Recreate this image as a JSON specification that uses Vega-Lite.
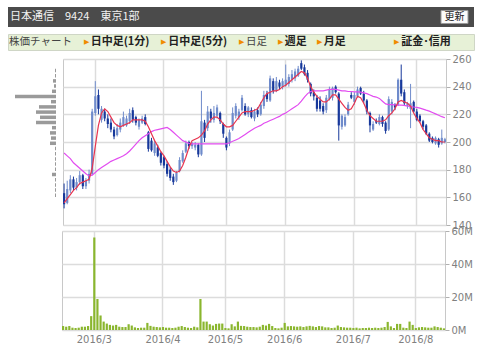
{
  "$schema": "https://vega.github.io/schema/vega-lite/v6.json",
  "background": "#ffffff",
  "padding": {"left": 7, "top": 7, "right": 4, "bottom": 4},
  "autosize": {"type": "pad"},
  "config": {
    "view": {"stroke": "#c8c8c8"},
    "axis": {"labelFont": "DejaVu Sans", "labelFontSize": 10, "labelColor": "#808080", "tickColor": "#b0b0b0", "gridColor": "#dcdcdc", "gridWidth": 1.5, "labelOverlap": false}
  },
  "datasets": {
    "daily": [
      {"d":"2016-02-16","o":163,"h":170,"l":152,"c":155,"v":2.4,"ms":156,"ml":192},
      {"d":"2016-02-17","o":156,"h":172,"l":155,"c":166,"v":2.0,"ms":159,"ml":190},
      {"d":"2016-02-18","o":165,"h":176,"l":163,"c":173,"v":2.4,"ms":162,"ml":188},
      {"d":"2016-02-19","o":173,"h":175,"l":165,"c":167,"v":1.4,"ms":165,"ml":185},
      {"d":"2016-02-22","o":167,"h":174,"l":165,"c":171,"v":1.2,"ms":167,"ml":183},
      {"d":"2016-02-23","o":171,"h":179,"l":169,"c":176,"v":1.4,"ms":170,"ml":181},
      {"d":"2016-02-24","o":176,"h":177,"l":166,"c":168,"v":2.0,"ms":171,"ml":179},
      {"d":"2016-02-25","o":168,"h":174,"l":166,"c":172,"v":2.0,"ms":172,"ml":177},
      {"d":"2016-02-26","o":172,"h":180,"l":170,"c":177,"v":2.4,"ms":173,"ml":175.5},
      {"d":"2016-02-29","o":177,"h":224,"l":176,"c":222,"v":8.4,"ms":181,"ml":176},
      {"d":"2016-03-01","o":221,"h":244,"l":219,"c":233,"v":56,"ms":197,"ml":178},
      {"d":"2016-03-02","o":234,"h":238,"l":220,"c":224,"v":18.8,"ms":212,"ml":180},
      {"d":"2016-03-03","o":216,"h":226,"l":214,"c":224,"v":8.8,"ms":221,"ml":181.5},
      {"d":"2016-03-04","o":222,"h":224,"l":215,"c":217,"v":5.1,"ms":224,"ml":183},
      {"d":"2016-03-07","o":217,"h":220,"l":210,"c":213,"v":3.9,"ms":222,"ml":184.5},
      {"d":"2016-03-08","o":214,"h":217,"l":207,"c":209,"v":3.1,"ms":218,"ml":186},
      {"d":"2016-03-09","o":209,"h":211,"l":202,"c":204,"v":2.7,"ms":214,"ml":187},
      {"d":"2016-03-10","o":205,"h":213,"l":204,"c":210,"v":3.1,"ms":212,"ml":188},
      {"d":"2016-03-11","o":209,"h":217,"l":207,"c":214,"v":2.0,"ms":211,"ml":189},
      {"d":"2016-03-14","o":212,"h":222,"l":211,"c":218,"v":1.8,"ms":212,"ml":190},
      {"d":"2016-03-15","o":212,"h":219,"l":211,"c":217,"v":1.8,"ms":213,"ml":191.5},
      {"d":"2016-03-16","o":215,"h":224,"l":213,"c":221,"v":3.5,"ms":214,"ml":193.5},
      {"d":"2016-03-17","o":223,"h":225,"l":214,"c":216,"v":2.7,"ms":216,"ml":196},
      {"d":"2016-03-18","o":218,"h":219,"l":212,"c":214,"v":1.6,"ms":216,"ml":198.5},
      {"d":"2016-03-22","o":211,"h":217,"l":209,"c":216,"v":1.2,"ms":216,"ml":201},
      {"d":"2016-03-23","o":214,"h":219,"l":213,"c":217,"v":1.4,"ms":216,"ml":203},
      {"d":"2016-03-24","o":218,"h":220,"l":212,"c":213,"v":1.4,"ms":215,"ml":204.5},
      {"d":"2016-03-25","o":207,"h":208,"l":193,"c":195,"v":4.3,"ms":211,"ml":206},
      {"d":"2016-03-28","o":201,"h":203,"l":193,"c":194,"v":2.5,"ms":206,"ml":207.5},
      {"d":"2016-03-29","o":192,"h":201,"l":190,"c":199,"v":2.0,"ms":201,"ml":208.5},
      {"d":"2016-03-30","o":196,"h":198,"l":189,"c":190,"v":1.8,"ms":197,"ml":209},
      {"d":"2016-03-31","o":192,"h":193,"l":183,"c":185,"v":1.6,"ms":193,"ml":209.5},
      {"d":"2016-04-01","o":189,"h":190,"l":181,"c":183,"v":1.8,"ms":190,"ml":210},
      {"d":"2016-04-04","o":184,"h":186,"l":175,"c":177,"v":1.4,"ms":186,"ml":210.5},
      {"d":"2016-04-05","o":180,"h":182,"l":172,"c":174,"v":1.4,"ms":182,"ml":209},
      {"d":"2016-04-06","o":175,"h":177,"l":169,"c":171,"v":1.2,"ms":179,"ml":207},
      {"d":"2016-04-07","o":172,"h":179,"l":171,"c":178,"v":1.4,"ms":178,"ml":205},
      {"d":"2016-04-08","o":179,"h":189,"l":178,"c":187,"v":2.0,"ms":179,"ml":203},
      {"d":"2016-04-11","o":186,"h":194,"l":185,"c":192,"v":2.4,"ms":183,"ml":201},
      {"d":"2016-04-12","o":193,"h":201,"l":192,"c":199,"v":1.8,"ms":189,"ml":200},
      {"d":"2016-04-13","o":200,"h":201,"l":195,"c":197,"v":1.4,"ms":196,"ml":199},
      {"d":"2016-04-14","o":197,"h":200,"l":195,"c":199,"v":1.2,"ms":201,"ml":198.7},
      {"d":"2016-04-15","o":196,"h":200,"l":194,"c":198,"v":2.0,"ms":202,"ml":198.7},
      {"d":"2016-04-18","o":198,"h":199,"l":189,"c":191,"v":1.6,"ms":203,"ml":198.7},
      {"d":"2016-04-19","o":191,"h":237,"l":190,"c":215,"v":18.8,"ms":205,"ml":198.7},
      {"d":"2016-04-20","o":214,"h":216,"l":200,"c":203,"v":5.1,"ms":208,"ml":198.7},
      {"d":"2016-04-21","o":210,"h":226,"l":208,"c":222,"v":5.1,"ms":213,"ml":198.7},
      {"d":"2016-04-22","o":222,"h":224,"l":214,"c":217,"v":3.5,"ms":216,"ml":198.7},
      {"d":"2016-04-25","o":216,"h":226,"l":214,"c":221,"v":2.7,"ms":218,"ml":198.7},
      {"d":"2016-04-26","o":219,"h":227,"l":217,"c":225,"v":3.7,"ms":218,"ml":198.7},
      {"d":"2016-04-27","o":221,"h":222,"l":213,"c":215,"v":3.9,"ms":216,"ml":198.7},
      {"d":"2016-04-28","o":213,"h":214,"l":203,"c":206,"v":3.9,"ms":213,"ml":198.7},
      {"d":"2016-05-02","o":203,"h":204,"l":194,"c":196,"v":1.2,"ms":211,"ml":198.7},
      {"d":"2016-05-06","o":199,"h":209,"l":197,"c":207,"v":1.0,"ms":211,"ml":199.5},
      {"d":"2016-05-09","o":209,"h":225,"l":208,"c":221,"v":3.5,"ms":212,"ml":200.5},
      {"d":"2016-05-10","o":219,"h":228,"l":217,"c":226,"v":2.2,"ms":215,"ml":201.5},
      {"d":"2016-05-11","o":218,"h":224,"l":216,"c":222,"v":5.1,"ms":218,"ml":202.5},
      {"d":"2016-05-12","o":223,"h":234,"l":222,"c":232,"v":2.5,"ms":221,"ml":204},
      {"d":"2016-05-13","o":226,"h":228,"l":219,"c":220,"v":2.4,"ms":222,"ml":205.5},
      {"d":"2016-05-16","o":220,"h":226,"l":218,"c":225,"v":2.0,"ms":222,"ml":207},
      {"d":"2016-05-17","o":223,"h":225,"l":217,"c":218,"v":1.8,"ms":222,"ml":208.5},
      {"d":"2016-05-18","o":217,"h":224,"l":215,"c":222,"v":1.8,"ms":223,"ml":210},
      {"d":"2016-05-19","o":223,"h":225,"l":218,"c":220,"v":1.6,"ms":224,"ml":211},
      {"d":"2016-05-20","o":220,"h":229,"l":219,"c":227,"v":2.0,"ms":228,"ml":212},
      {"d":"2016-05-23","o":226,"h":237,"l":224,"c":234,"v":3.1,"ms":232,"ml":213.5},
      {"d":"2016-05-24","o":235,"h":237,"l":229,"c":231,"v":2.7,"ms":235,"ml":214.5},
      {"d":"2016-05-25","o":230,"h":248,"l":229,"c":246,"v":3.7,"ms":236,"ml":215.5},
      {"d":"2016-05-26","o":244,"h":246,"l":235,"c":237,"v":2.4,"ms":237,"ml":216.5},
      {"d":"2016-05-27","o":237,"h":247,"l":236,"c":244,"v":1.2,"ms":237,"ml":217.5},
      {"d":"2016-05-30","o":243,"h":245,"l":238,"c":240,"v":1.0,"ms":238,"ml":218.5},
      {"d":"2016-05-31","o":240,"h":246,"l":238,"c":244,"v":1.4,"ms":240,"ml":220},
      {"d":"2016-06-01","o":241,"h":256,"l":240,"c":245,"v":4.3,"ms":241,"ml":221},
      {"d":"2016-06-02","o":242,"h":249,"l":240,"c":247,"v":2.2,"ms":243,"ml":222.5},
      {"d":"2016-06-03","o":245,"h":252,"l":243,"c":249,"v":2.4,"ms":245,"ml":224},
      {"d":"2016-06-06","o":246,"h":253,"l":244,"c":251,"v":2.2,"ms":247,"ml":225.5},
      {"d":"2016-06-07","o":248,"h":255,"l":247,"c":253,"v":2.0,"ms":249,"ml":227},
      {"d":"2016-06-08","o":257,"h":259,"l":252,"c":253,"v":2.2,"ms":251,"ml":229.5},
      {"d":"2016-06-09","o":254,"h":256,"l":248,"c":249,"v":1.8,"ms":250,"ml":232.5},
      {"d":"2016-06-10","o":250,"h":252,"l":243,"c":245,"v":2.2,"ms":246,"ml":235},
      {"d":"2016-06-13","o":242,"h":243,"l":233,"c":235,"v":2.5,"ms":240,"ml":236.5},
      {"d":"2016-06-14","o":236,"h":238,"l":230,"c":233,"v":2.2,"ms":236,"ml":237},
      {"d":"2016-06-15","o":232,"h":234,"l":222,"c":224,"v":1.8,"ms":233,"ml":237},
      {"d":"2016-06-16","o":230,"h":233,"l":222,"c":224,"v":2.4,"ms":231,"ml":237},
      {"d":"2016-06-17","o":226,"h":228,"l":220,"c":222,"v":2.2,"ms":229,"ml":237},
      {"d":"2016-06-20","o":223,"h":234,"l":221,"c":232,"v":1.6,"ms":229,"ml":237.5},
      {"d":"2016-06-21","o":231,"h":240,"l":230,"c":238,"v":1.6,"ms":231,"ml":238},
      {"d":"2016-06-22","o":232,"h":240,"l":230,"c":239,"v":1.2,"ms":234,"ml":238},
      {"d":"2016-06-23","o":240,"h":241,"l":235,"c":236,"v":1.4,"ms":234,"ml":238},
      {"d":"2016-06-24","o":235,"h":236,"l":201,"c":212,"v":2.7,"ms":231,"ml":237.5},
      {"d":"2016-06-27","o":211,"h":220,"l":209,"c":219,"v":1.8,"ms":228,"ml":237},
      {"d":"2016-06-28","o":212,"h":220,"l":211,"c":218,"v":1.6,"ms":225,"ml":237},
      {"d":"2016-06-29","o":220,"h":229,"l":219,"c":227,"v":1.4,"ms":223,"ml":236.5},
      {"d":"2016-06-30","o":234,"h":236,"l":231,"c":232,"v":1.4,"ms":224,"ml":236.5},
      {"d":"2016-07-01","o":229,"h":236,"l":227,"c":234,"v":1.2,"ms":228,"ml":236.3},
      {"d":"2016-07-04","o":233,"h":240,"l":232,"c":238,"v":1.4,"ms":233,"ml":236.2},
      {"d":"2016-07-05","o":239,"h":240,"l":234,"c":235,"v":1.0,"ms":232,"ml":236},
      {"d":"2016-07-06","o":235,"h":237,"l":228,"c":230,"v":1.2,"ms":228,"ml":235.5},
      {"d":"2016-07-07","o":230,"h":231,"l":220,"c":222,"v":1.2,"ms":223,"ml":235},
      {"d":"2016-07-08","o":221,"h":222,"l":207,"c":212,"v":1.4,"ms":219,"ml":234},
      {"d":"2016-07-11","o":209,"h":215,"l":208,"c":213,"v":1.2,"ms":217,"ml":233},
      {"d":"2016-07-12","o":215,"h":217,"l":213,"c":214,"v":1.4,"ms":215,"ml":232.5},
      {"d":"2016-07-13","o":213,"h":220,"l":212,"c":218,"v":1.2,"ms":215,"ml":231.5},
      {"d":"2016-07-14","o":218,"h":219,"l":211,"c":213,"v":1.4,"ms":215,"ml":229.5},
      {"d":"2016-07-15","o":214,"h":215,"l":206,"c":208,"v":1.8,"ms":216,"ml":227.5},
      {"d":"2016-07-19","o":209,"h":233,"l":208,"c":231,"v":4.9,"ms":219,"ml":227},
      {"d":"2016-07-20","o":222,"h":231,"l":220,"c":229,"v":2.2,"ms":221,"ml":227},
      {"d":"2016-07-21","o":227,"h":228,"l":223,"c":225,"v":1.2,"ms":224,"ml":226.8},
      {"d":"2016-07-22","o":227,"h":246,"l":226,"c":245,"v":3.7,"ms":229,"ml":226.7},
      {"d":"2016-07-25","o":245,"h":256,"l":233,"c":235,"v":3.7,"ms":230,"ml":226.6},
      {"d":"2016-07-26","o":236,"h":238,"l":226,"c":228,"v":1.4,"ms":229,"ml":226.5},
      {"d":"2016-07-27","o":226,"h":229,"l":224,"c":228,"v":1.2,"ms":228,"ml":226},
      {"d":"2016-07-28","o":224,"h":242,"l":210,"c":228,"v":5.1,"ms":226,"ml":225.8},
      {"d":"2016-07-29","o":229,"h":230,"l":221,"c":222,"v":3.1,"ms":221,"ml":225.3},
      {"d":"2016-08-01","o":222,"h":224,"l":215,"c":216,"v":1.2,"ms":217,"ml":225},
      {"d":"2016-08-02","o":219,"h":220,"l":214,"c":215,"v":1.6,"ms":214,"ml":224.5},
      {"d":"2016-08-03","o":215,"h":216,"l":209,"c":211,"v":1.8,"ms":209,"ml":223.8},
      {"d":"2016-08-04","o":212,"h":213,"l":205,"c":206,"v":1.6,"ms":206,"ml":223},
      {"d":"2016-08-05","o":206,"h":207,"l":200,"c":201,"v":1.4,"ms":203,"ml":222.3},
      {"d":"2016-08-08","o":203,"h":204,"l":199,"c":200,"v":1.4,"ms":202,"ml":221.3},
      {"d":"2016-08-09","o":199,"h":204,"l":198,"c":203,"v":2.2,"ms":201,"ml":220.3},
      {"d":"2016-08-10","o":202,"h":203,"l":196,"c":198,"v":1.8,"ms":201,"ml":219.3},
      {"d":"2016-08-12","o":199,"h":209,"l":198,"c":203,"v":1.4,"ms":200,"ml":218.3},
      {"d":"2016-08-15","o":200,"h":203,"l":199,"c":202,"v":1.0,"ms":200,"ml":217.5}
    ],
    "profile": [
      {"p":255,"w":1},{"p":251,"w":1},{"p":247,"w":3},{"p":243,"w":2},{"p":239,"w":4},
      {"p":235,"w":41},{"p":231,"w":5},{"p":227,"w":17},{"p":223,"w":20},{"p":219,"w":16},
      {"p":215,"w":20},{"p":211,"w":4},{"p":207,"w":6},{"p":203,"w":5},{"p":199,"w":6},
      {"p":195,"w":1},{"p":191,"w":1},{"p":187,"w":1},{"p":183,"w":1},{"p":179,"w":1},
      {"p":175,"w":4},{"p":171,"w":1},{"p":167,"w":1},{"p":163,"w":1},{"p":159,"w":1}
    ]
  },
  "vconcat": [
    {
      "vconcat": [
        {
          "width": 466, "height": 20,
          "view": {"fill": "#4b4b4b", "stroke": null},
          "encoding": {"x": {"field": "slot", "type": "nominal", "scale": {"type": "point", "domain": ["L", "R"], "padding": 0}, "axis": null}},
          "layer": [
            {"data": {"values": [{"slot": "L", "label": "日本通信　9424　東京1部"}]},
             "mark": {"type": "text", "align": "left", "dx": 2, "color": "#f2f2f2", "fontSize": 11, "font": "Noto Sans CJK JP"},
             "encoding": {"text": {"field": "label"}}},
            {"data": {"values": [{"slot": "R"}]},
             "mark": {"type": "point", "shape": "M-1,-0.48L1,-0.48L1,0.48L-1,0.48Z", "size": 729, "filled": true, "fill": "#fbfbfb", "stroke": "#999999", "strokeWidth": 1, "opacity": 1, "xOffset": -19.5}},
            {"data": {"values": [{"slot": "R", "label": "更新"}]},
             "mark": {"type": "text", "align": "center", "dx": -19.5, "color": "#222222", "fontSize": 10, "font": "Noto Sans CJK JP"},
             "encoding": {"text": {"field": "label"}}}
          ]
        },
        {
          "width": 466, "height": 16,
          "view": {"fill": "#e7f1d7", "stroke": "#cfd6c6"},
          "data": {"values": [
            {"slot": "s0", "label": "株価チャート", "link": false, "arrow": false},
            {"slot": "s2", "label": "日中足(1分)", "link": true, "arrow": true},
            {"slot": "s4", "label": "日中足(5分)", "link": true, "arrow": true},
            {"slot": "s6", "label": "日足", "link": false, "arrow": true},
            {"slot": "s7", "label": "週足", "link": true, "arrow": true},
            {"slot": "s8", "label": "月足", "link": true, "arrow": true},
            {"slot": "s10", "label": "証金･信用", "link": true, "arrow": true}
          ]},
          "encoding": {"x": {"field": "slot", "type": "nominal", "scale": {"type": "point", "domain": ["s0","s1","s2","s3","s4","s5","s6","s7","s8","s9","s10","s11","s12"], "padding": 0}, "axis": null}},
          "layer": [
            {"transform": [{"filter": "datum.arrow"}],
             "mark": {"type": "text", "align": "left", "dx": -2, "color": "#f08c00", "fontSize": 7, "text": "▶"}},
            {"transform": [{"filter": "!datum.arrow"}],
             "mark": {"type": "text", "align": "left", "dx": 1, "color": "#444444", "fontSize": 10.5, "font": "Noto Sans CJK JP"},
             "encoding": {"text": {"field": "label"}}},
            {"transform": [{"filter": "datum.arrow && !datum.link"}],
             "mark": {"type": "text", "align": "left", "dx": 5, "color": "#444444", "fontSize": 10.5, "font": "Noto Sans CJK JP"},
             "encoding": {"text": {"field": "label"}}},
            {"transform": [{"filter": "datum.link"}],
             "mark": {"type": "text", "align": "left", "dx": 5, "color": "#222222", "fontSize": 11, "fontWeight": "bold", "font": "Noto Sans CJK JP"},
             "encoding": {"text": {"field": "label"}}}
          ]
        }
      ],
      "spacing": 6,
      "bounds": "full"
    },
    {
      "vconcat": [
        {
          "hconcat": [
            {
              "width": 48, "height": 166,
              "view": {"stroke": null},
              "data": {"name": "profile"},
              "mark": {"type": "bar", "orient": "horizontal", "size": 3.5, "color": "#9a9a9a"},
              "encoding": {
                "y": {"field": "p", "type": "quantitative", "scale": {"domain": [140, 260], "zero": false}, "axis": null},
                "x": {"field": "w", "type": "quantitative", "scale": {"domain": [0, 48], "reverse": true}, "axis": null}
              }
            },
            {
              "width": 383, "height": 166,
              "view": {"stroke": "#c8c8c8"},
              "data": {"name": "daily"},
              "encoding": {
                "x": {"field": "d", "type": "ordinal", "scale": {"paddingInner": 0.3, "paddingOuter": 0},
                      "axis": {"values": ["2016-03-01","2016-04-01","2016-05-02","2016-06-01","2016-07-01","2016-08-01"], "labels": false, "ticks": false, "domain": false, "grid": true, "bandPosition": 0.5, "title": null}}
              },
              "layer": [
                {"mark": {"type": "rule", "strokeWidth": 1},
                 "encoding": {
                   "y": {"field": "l", "type": "quantitative", "scale": {"domain": [140, 260], "zero": false},
                         "axis": {"orient": "right", "values": [140,160,180,200,220,240,260], "tickCount": 7, "title": null, "domain": false, "tickSize": 4, "grid": true, "labelOverlap": false}},
                   "y2": {"field": "h"},
                   "color": {"condition": {"test": "datum.c >= datum.o", "value": "#6f8bcb"}, "value": "#17389b"}
                 }},
                {"mark": {"type": "bar"},
                 "encoding": {
                   "y": {"field": "o", "type": "quantitative", "scale": {"domain": [140, 260], "zero": false},
                         "axis": {"orient": "right", "values": [140,160,180,200,220,240,260], "tickCount": 7, "title": null, "domain": false, "tickSize": 4, "grid": true, "labelOverlap": false}},
                   "y2": {"field": "c"},
                   "color": {"condition": {"test": "datum.c >= datum.o", "value": "#6f8bcb"}, "value": "#17389b"}
                 }},
                {"mark": {"type": "line", "color": "#e24cf0", "strokeWidth": 1.2},
                 "encoding": {"y": {"field": "ml", "type": "quantitative", "scale": {"domain": [140, 260], "zero": false},
                         "axis": {"orient": "right", "values": [140,160,180,200,220,240,260], "tickCount": 7, "title": null, "domain": false, "tickSize": 4, "grid": true, "labelOverlap": false}}}},
                {"mark": {"type": "line", "color": "#e8344f", "strokeWidth": 1.2},
                 "encoding": {"y": {"field": "ms", "type": "quantitative", "scale": {"domain": [140, 260], "zero": false},
                         "axis": {"orient": "right", "values": [140,160,180,200,220,240,260], "tickCount": 7, "title": null, "domain": false, "tickSize": 4, "grid": true, "labelOverlap": false}}}}
              ]
            }
          ],
          "spacing": 5,
          "bounds": "full"
        },
        {
          "hconcat": [
            {
              "width": 48, "height": 99,
              "view": {"stroke": null},
              "data": {"values": [{}]},
              "mark": {"type": "point", "opacity": 0}
            },
            {
              "width": 383, "height": 99,
              "view": {"stroke": "#c8c8c8"},
              "data": {"name": "daily"},
              "mark": {"type": "bar", "color": "#8ab62e"},
              "encoding": {
                "x": {"field": "d", "type": "ordinal", "scale": {"paddingInner": 0.3, "paddingOuter": 0},
                      "axis": {"values": ["2016-03-01","2016-04-01","2016-05-02","2016-06-01","2016-07-01","2016-08-01"],
                               "labelExpr": "slice(datum.value,0,4) + '/' + toNumber(slice(datum.value,5,7))",
                               "labelAngle": 0, "labelOverlap": false, "ticks": false, "domain": false, "grid": true, "bandPosition": 0.5, "labelPadding": 4, "title": null}},
                "y": {"field": "v", "type": "quantitative", "scale": {"domain": [0, 60]},
                      "axis": {"orient": "right", "values": [0, 20, 40, 60], "labelExpr": "datum.value + 'M'", "title": null, "domain": false, "tickSize": 4, "labelOverlap": false}}
              }
            }
          ],
          "spacing": 5,
          "bounds": "full"
        }
      ],
      "spacing": -6,
      "bounds": "full"
    }
  ],
  "spacing": 2,
  "bounds": "full"
}
